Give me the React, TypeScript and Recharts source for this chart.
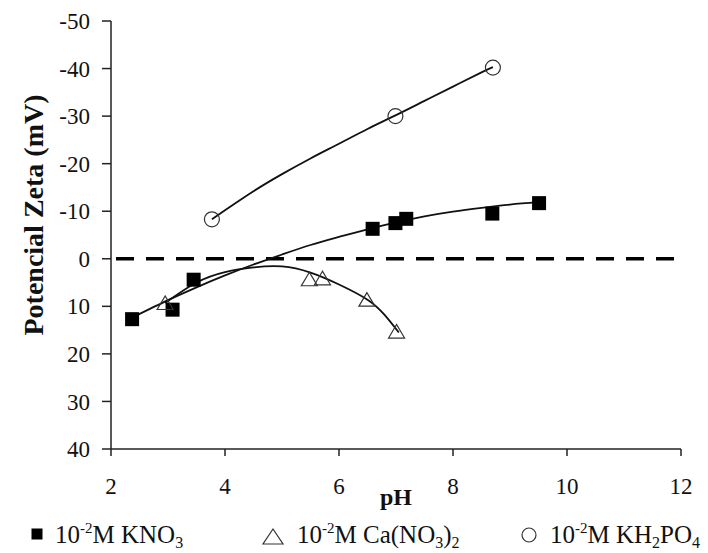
import React from 'react';
import { ComposedChart, XAxis, YAxis, Line, Scatter, ReferenceLine } from 'recharts';

// ---- axis ticks ----
const xTicks = [2, 4, 6, 8, 10, 12];
const yTicks = [-50, -40, -30, -20, -10, 0, 10, 20, 30, 40];

// ---- measured points ----
const kno3PH = [2.37, 3.08, 3.45, 6.59, 6.99, 7.18, 8.69, 9.51];
const kno3Zeta = [12.7, 10.7, 4.4, -6.3, -7.5, -8.4, -9.5, -11.7];

const caPH = [2.95, 5.48, 5.71, 6.49, 7.01];
const caZeta = [9.3, 4.3, 4.1, 8.6, 15.3];

const khPH = [3.77, 6.99, 8.7];
const khZeta = [-8.3, -30.0, -40.2];

// ---- trend curves ----
const kno3FitPH = [2.4, 3, 3.5, 4, 4.5, 5, 5.5, 6, 6.5, 7, 7.5, 8, 8.5, 9, 9.5];
const kno3FitZeta = [12.2, 8.7, 6.0, 3.5, 1.2, -0.9, -2.9, -4.6, -6.2, -7.6, -8.9, -9.9, -10.7, -11.4, -11.9];

const caFitPH = [2.95, 3.5, 4.0, 4.5, 5.0, 5.5, 6.0, 6.5, 6.8, 7.05];
const caFitZeta = [9.3, 5.0, 2.8, 1.8, 1.6, 2.9, 5.4, 8.6, 11.8, 15.5];

const khFitPH = [3.77, 4.0, 4.5, 5.0, 5.5, 6.0, 6.5, 7.0, 7.5, 8.0, 8.5, 8.7];
const khFitZeta = [-8.3, -10.2, -14.2, -17.8, -21.1, -24.2, -27.3, -30.2, -33.2, -36.2, -39.2, -40.3];

const toPoints = (xs: number[], ys: number[]) => xs.map((x, i) => ({ x, y: ys[i] }));

const FONT = '"Liberation Serif", "Times New Roman", serif';
const AXIS = '#222';

const SquareShape = (p: any) => (
  <rect x={p.cx - 7} y={p.cy - 7} width={14} height={14} fill="#000" />
);
const TriangleShape = (p: any) => (
  <polygon
    points={`${p.cx},${p.cy - 7} ${p.cx - 8},${p.cy + 6.5} ${p.cx + 8},${p.cy + 6.5}`}
    fill="none"
    stroke="#333"
    strokeWidth={1.2}
  />
);
const CircleShape = (p: any) => (
  <circle cx={p.cx} cy={p.cy} r={7.5} fill="none" stroke="#333" strokeWidth={1.2} />
);

const tickStyle = { fontFamily: FONT, fontSize: 23, fill: '#111' };

export default function App() {
  return (
    <div style={{ position: 'absolute', left: 0, top: 0, width: 708, height: 553, background: '#fff' }}>
      <ComposedChart width={708} height={553} margin={{ top: 21, right: 27, bottom: 0, left: 0 }}>
        <XAxis
          type="number"
          dataKey="x"
          domain={[2, 12]}
          ticks={xTicks}
          allowDataOverflow
          height={104}
          tickSize={7}
          tickMargin={22}
          tick={tickStyle}
          stroke={AXIS}
          strokeWidth={1.5}
          label={() => (
            <text x={396} y={505} textAnchor="middle" fontFamily={FONT} fontSize={24} fontWeight="bold" fill="#111">
              pH
            </text>
          )}
        />
        <YAxis
          type="number"
          dataKey="y"
          domain={[-50, 40]}
          ticks={yTicks}
          reversed
          allowDataOverflow
          width={111}
          tickSize={9}
          tickMargin={12}
          tick={tickStyle}
          stroke={AXIS}
          strokeWidth={1.5}
          label={() => (
            <text
              x={33}
              y={215}
              transform="rotate(-90 33 215)"
              textAnchor="middle"
              dominantBaseline="central"
              fontFamily={FONT}
              fontSize={28}
              fontWeight="bold"
              fill="#111"
            >
              Potencial Zeta (mV)
            </text>
          )}
        />
        <ReferenceLine y={0} stroke="#000" strokeWidth={3.5} strokeDasharray="18 12" strokeDashoffset={-5} />
        <Scatter data={toPoints(kno3PH, kno3Zeta)} shape={SquareShape} isAnimationActive={false} />
        <Scatter data={toPoints(caPH, caZeta)} shape={TriangleShape} isAnimationActive={false} />
        <Scatter data={toPoints(khPH, khZeta)} shape={CircleShape} isAnimationActive={false} />
        <Line data={toPoints(kno3FitPH, kno3FitZeta)} dataKey="y" type="natural" stroke="#111" strokeWidth={1.8} dot={false} activeDot={false} isAnimationActive={false} />
        <Line data={toPoints(caFitPH, caFitZeta)} dataKey="y" type="natural" stroke="#111" strokeWidth={1.8} dot={false} activeDot={false} isAnimationActive={false} />
        <Line data={toPoints(khFitPH, khFitZeta)} dataKey="y" type="natural" stroke="#111" strokeWidth={1.8} dot={false} activeDot={false} isAnimationActive={false} />
      </ComposedChart>
      <svg width={708} height={553} style={{ position: 'absolute', left: 0, top: 0, pointerEvents: 'none' }}>
        <g fontFamily={FONT} fill="#111">
          <rect x={31.5} y={528.5} width={11} height={11} fill="#000" />
          <text x={55} y={543} fontSize={25}>
            10<tspan fontSize={15} dy={-10}>-2</tspan>
            <tspan dy={10}>M KNO</tspan>
            <tspan fontSize={16} dy={5}>3</tspan>
          </text>
          <polygon points="273,529 263,544 283,544" fill="none" stroke="#333" strokeWidth={1.2} />
          <text x={297} y={543} fontSize={25}>
            10<tspan fontSize={15} dy={-10}>-2</tspan>
            <tspan dy={10}>M Ca(NO</tspan>
            <tspan fontSize={16} dy={5}>3</tspan>
            <tspan dy={-5}>)</tspan>
            <tspan fontSize={16} dy={5}>2</tspan>
          </text>
          <circle cx={529} cy={535} r={7} fill="none" stroke="#333" strokeWidth={1.2} />
          <text x={550} y={543} fontSize={25}>
            10<tspan fontSize={15} dy={-10}>-2</tspan>
            <tspan dy={10}>M KH</tspan>
            <tspan fontSize={16} dy={5}>2</tspan>
            <tspan dy={-5}>PO</tspan>
            <tspan fontSize={16} dy={5}>4</tspan>
          </text>
        </g>
      </svg>
    </div>
  );
}
